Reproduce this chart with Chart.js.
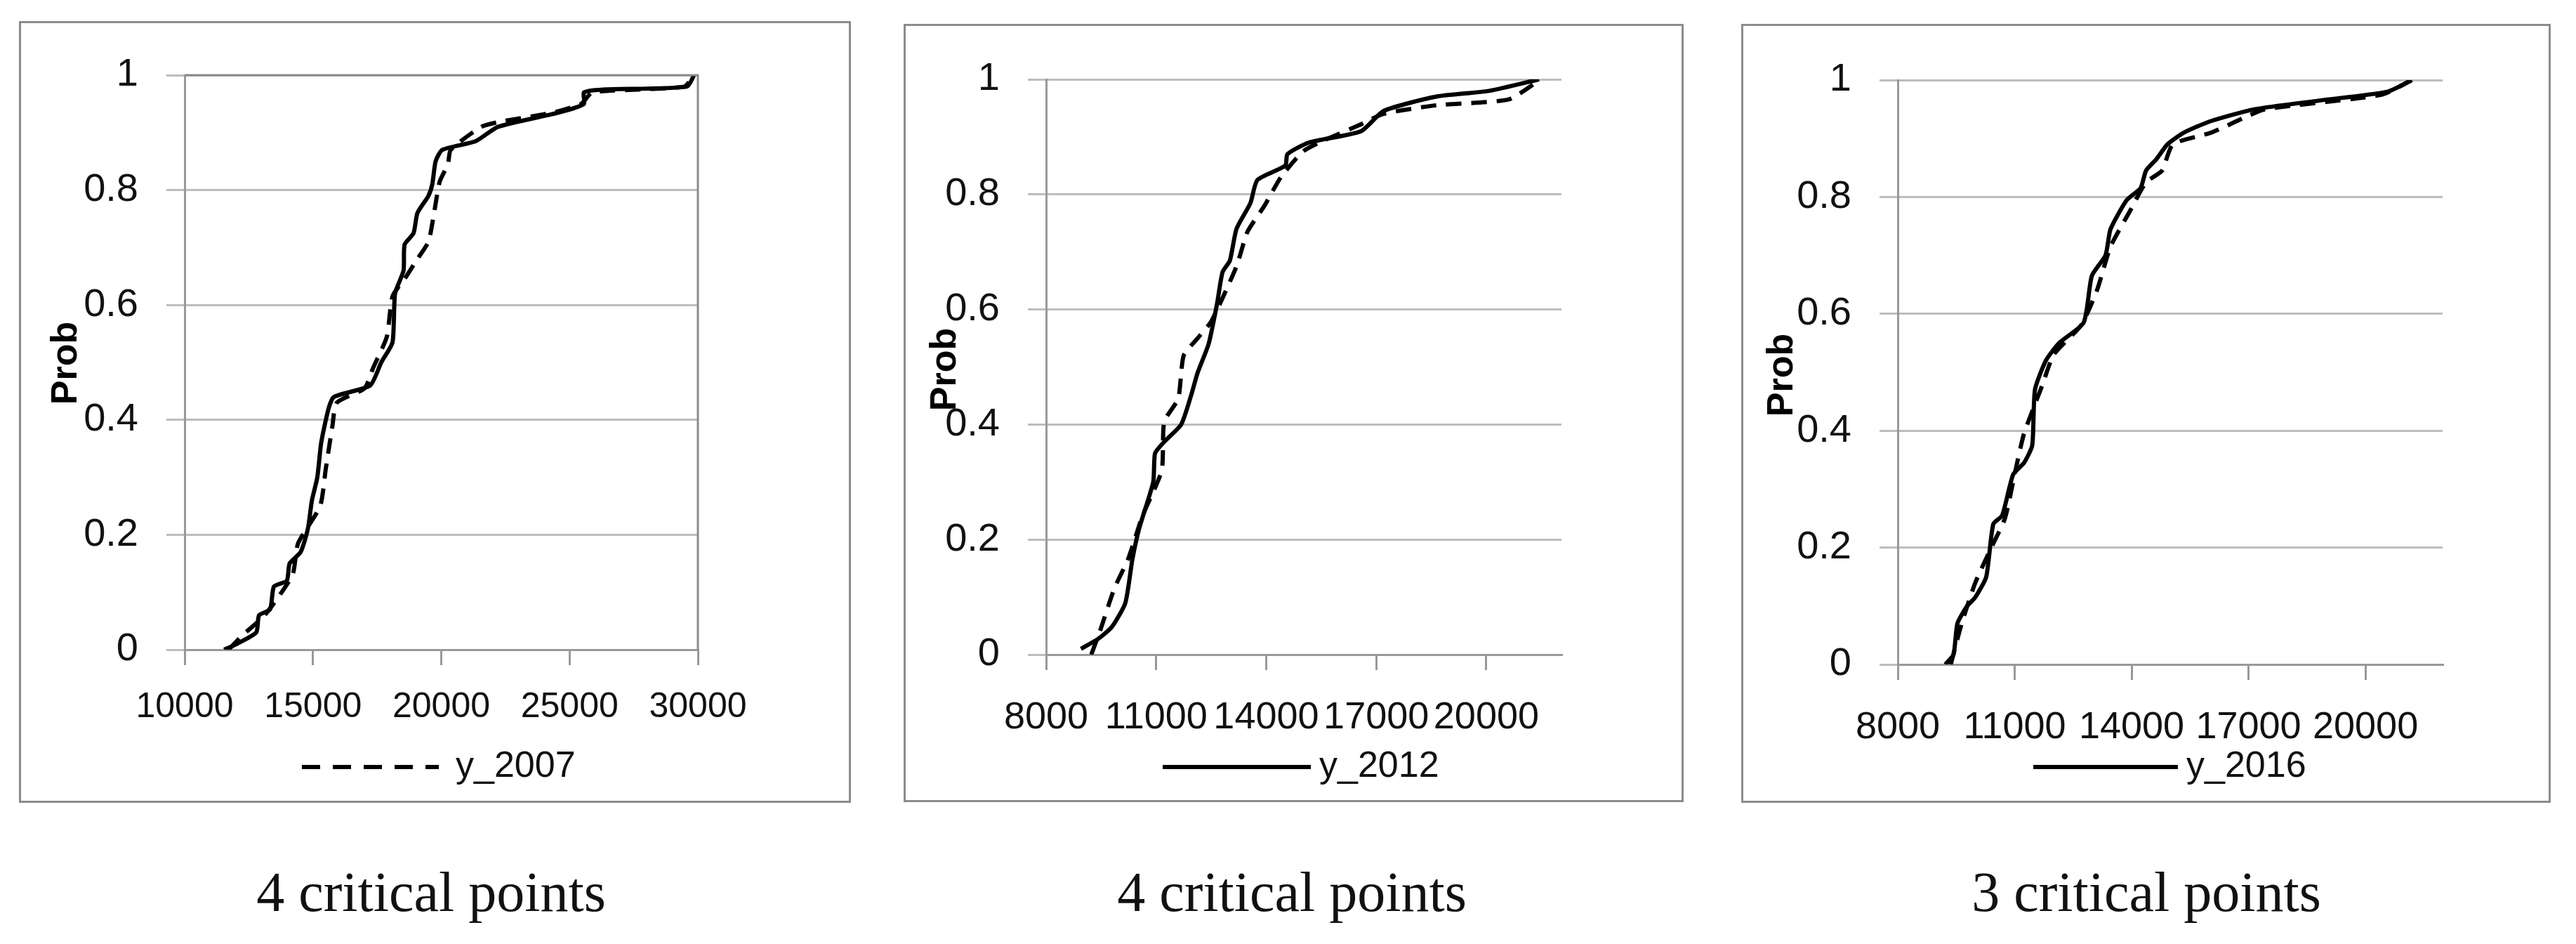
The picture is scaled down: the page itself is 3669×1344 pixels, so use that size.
<!DOCTYPE html>
<html><head><meta charset="utf-8">
<script src="https://cdn.jsdelivr.net/npm/chart.js@4.4.0/dist/chart.umd.min.js"></script>
<style>
body{margin:0;width:3669px;height:1344px;background:#fff;position:relative;overflow:hidden}
.box{position:absolute;border:3px solid #8c8c8c;box-sizing:border-box}
.cap{position:absolute;font-family:"Liberation Serif",serif;font-size:80px;color:#111;transform:translateX(-50%);white-space:nowrap}
</style></head><body>
<div class="box" style="left:27px;top:30px;width:1185px;height:1113px"><canvas id="c1"></canvas></div>
<div class="box" style="left:1287px;top:34px;width:1111px;height:1108px"><canvas id="c2"></canvas></div>
<div class="box" style="left:2480px;top:34px;width:1153px;height:1109px"><canvas id="c3"></canvas></div>
<div class="cap" style="left:614px;top:1225px">4 critical points</div>
<div class="cap" style="left:1840px;top:1225px">4 critical points</div>
<div class="cap" style="left:3057px;top:1225px">3 critical points</div>
<script>
const yTicks=[0,0.2,0.4,0.6,0.8,1];
const x1Ticks=[10000,15000,20000,25000,30000];
const x23Ticks=[8000,11000,14000,17000,20000];
// Panel 1
const p1SolidX=[11540,12030,12790,12900,13330,13480,13980,14090,14520,14800,14960,15170,15320,15610,15820,17230,17660,18100,18200,18530,18570,18920,19070,19500,19650,19780,20040,21340,22210,24590,25560,25560,26320,29570,29850];
const p1SolidY=[0,0.01,0.03,0.06,0.07,0.11,0.12,0.15,0.17,0.21,0.26,0.30,0.36,0.42,0.44,0.46,0.50,0.535,0.62,0.66,0.705,0.725,0.76,0.79,0.81,0.85,0.87,0.885,0.91,0.935,0.95,0.97,0.975,0.98,1.0];
const p1DashX=[11710,12250,13120,14200,14420,15280,15500,15760,15930,17010,17340,17880,18100,18640,19070,19500,19720,19940,20260,20370,21560,22420,24370,25450,25890,29460,29850];
const p1DashY=[0,0.025,0.06,0.13,0.185,0.25,0.315,0.39,0.43,0.455,0.49,0.545,0.615,0.65,0.68,0.71,0.76,0.815,0.845,0.87,0.91,0.92,0.935,0.95,0.97,0.98,1.0];
// Panel 2
const p2SolidX=[8950,9030,9410,9790,10160,10350,10540,10920,10970,11220,11680,11950,12130,12430,12660,12810,13010,13190,13570,13760,14520,14580,15160,16590,17200,18640,20080,21440];
const p2SolidY=[0.01,0.013,0.027,0.048,0.09,0.165,0.22,0.30,0.35,0.37,0.40,0.45,0.49,0.54,0.61,0.665,0.685,0.74,0.785,0.825,0.85,0.87,0.89,0.91,0.945,0.97,0.98,1.0];
const p2DashX=[9230,9480,9860,10240,10620,11150,11220,11600,11750,12130,12510,13190,13490,13950,14400,15010,15610,16520,17200,18640,20600,21440];
const p2DashY=[0,0.043,0.115,0.167,0.24,0.32,0.405,0.445,0.52,0.55,0.58,0.675,0.735,0.78,0.83,0.875,0.895,0.92,0.94,0.955,0.965,0.998];
// Panel 3
const p3SolidX=[9220,9430,9530,9780,9990,10270,10450,10680,10960,11240,11450,11520,11800,12140,12770,12980,13330,13460,13880,14230,14370,14640,14920,15340,16040,17150,18820,20560,21190];
const p3SolidY=[0,0.017,0.07,0.10,0.115,0.15,0.24,0.255,0.325,0.345,0.375,0.47,0.52,0.55,0.585,0.665,0.70,0.745,0.795,0.815,0.845,0.865,0.89,0.91,0.93,0.95,0.965,0.98,1.0];
const p3DashX=[9360,9640,9990,10400,10750,11030,11240,11720,12000,12700,13110,13460,13950,14370,14780,15060,16040,16870,17430,20420,21190];
const p3DashY=[0,0.07,0.14,0.20,0.25,0.335,0.395,0.48,0.53,0.58,0.64,0.715,0.775,0.825,0.845,0.89,0.91,0.935,0.95,0.975,1.0];

const pts=(xs,ys)=>xs.map((x,i)=>({x,y:ys[i]}));
const FONT='"Liberation Sans", Arial, sans-serif';

function make(id,cfg){
  const el=document.getElementById(id);
  const par=el.parentNode;
  const W=par.clientWidth,H=par.clientHeight;
  par.style.overflow='hidden';
  el.style.width=W+'px';el.style.height=H+'px';
  const deco={id:'deco',afterDraw(ch){
    const c=ch.ctx;c.save();
    if(cfg.frame){const a=ch.chartArea;c.strokeStyle='#8c8c8c';c.lineWidth=3;
      c.beginPath();c.moveTo(a.left,a.top);c.lineTo(a.right,a.top);c.lineTo(a.right,a.bottom);c.stroke();}
    c.fillStyle='#000';c.font='bold 52px '+FONT;
    c.translate(cfg.prob[0],cfg.prob[1]);c.rotate(-Math.PI/2);c.textAlign='center';c.textBaseline='middle';
    c.fillText('Prob',0,0);c.restore();
    c.save();c.strokeStyle='#000';c.lineWidth=6;
    if(cfg.legDash)c.setLineDash([26,18]);
    c.beginPath();c.moveTo(cfg.leg[0],cfg.leg[2]);c.lineTo(cfg.leg[1],cfg.leg[2]);c.stroke();
    c.setLineDash([]);c.fillStyle='#111';c.font='52px '+FONT;c.textBaseline='middle';
    c.fillText(cfg.legText,cfg.leg[3],cfg.leg[2]);c.restore();
  }};
  new Chart(el,{type:'line',
    data:{datasets:[
      {label:'solid',data:pts(cfg.sx,cfg.sy),borderColor:'#000',borderWidth:6,pointRadius:0,tension:0.2},
      {label:'dashed',data:pts(cfg.dx,cfg.dy),borderColor:'#000',borderWidth:6,borderDash:[22,14],pointRadius:0,tension:0.2}]},
    options:{responsive:false,animation:false,
      layout:{padding:{left:0,right:cfg.pad[1],top:cfg.pad[2],bottom:0}},
      plugins:{legend:{display:false},tooltip:{enabled:false}},
      scales:{
        x:{type:'linear',min:cfg.xmin,max:cfg.xmax,
          afterBuildTicks:a=>{a.ticks=cfg.xt.map(v=>({value:v}));},
          afterFit:a=>{a.height=cfg.pad[3];},
          grid:{drawOnChartArea:false,color:'#999',lineWidth:3,tickLength:22},
          border:{color:'#999',width:3},
          ticks:{autoSkip:false,maxRotation:0,color:'#111',font:{size:cfg.xfs,family:FONT},padding:cfg.xpad,callback:v=>String(v)}},
        y:{min:0,max:1,
          afterBuildTicks:a=>{a.ticks=yTicks.map(v=>({value:v}));},
          afterFit:a=>{a.width=cfg.pad[0];},
          grid:{color:'#bdbdbd',lineWidth:3,tickLength:26},
          border:{color:'#999',width:3},
          ticks:{color:'#111',font:{size:56,family:FONT},padding:40,callback:v=>String(v)}}}},
    plugins:[deco]});
}
make('c1',{sx:p1SolidX,sy:p1SolidY,dx:p1DashX,dy:p1DashY,xmin:10000,xmax:30000,xt:x1Ticks,
  pad:[233,215,74,215],xfs:50,xpad:30,frame:true,prob:[65,484],leg:[400,595,1059,619],legText:'y_2007',legDash:true});
make('c2',{sx:p2SolidX,sy:p2SolidY,dx:p2DashX,dy:p2DashY,xmin:8000,xmax:22050,xt:x23Ticks,
  pad:[200,171,76,207],xfs:54,xpad:36,frame:false,prob:[57,489],leg:[366,577,1055,589],legText:'y_2012',legDash:false});
make('c3',{sx:p3SolidX,sy:p3SolidY,dx:p3DashX,dy:p3DashY,xmin:8000,xmax:21980,xt:x23Ticks,
  pad:[220,151,77,194],xfs:54,xpad:36,frame:false,prob:[56,497],leg:[413,619,1055,631],legText:'y_2016',legDash:false});
</script></body></html>
